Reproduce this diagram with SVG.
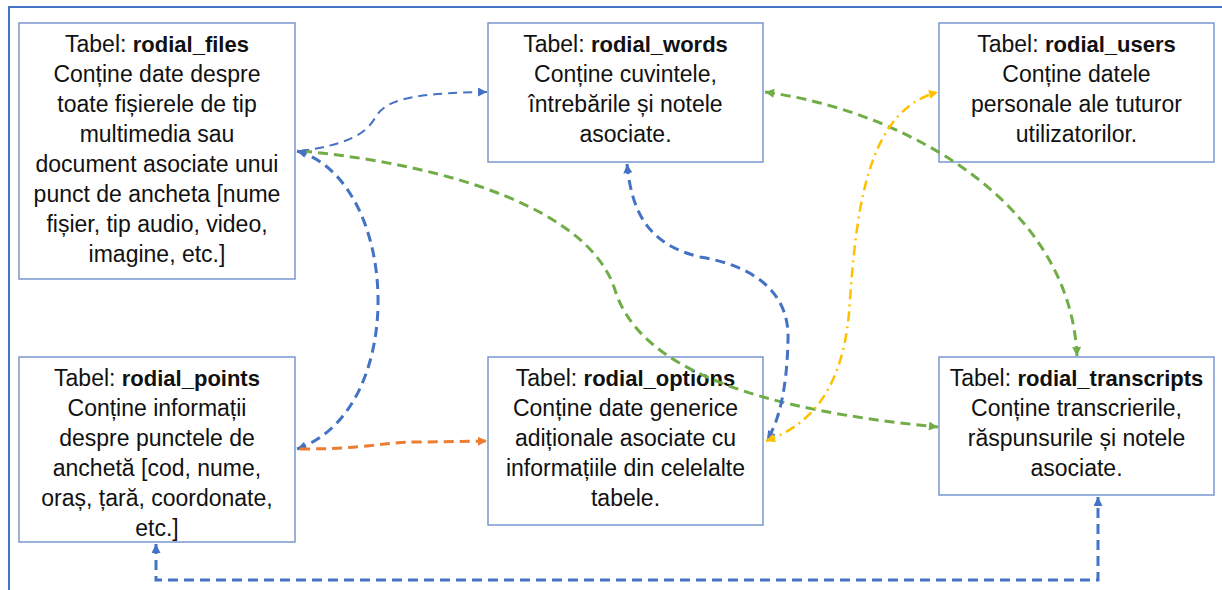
<svg xmlns="http://www.w3.org/2000/svg" width="1222" height="590" viewBox="0 0 1222 590">
<style>
.frame{fill:none;stroke:#4472C4;stroke-width:2}
.box{fill:#fff;stroke:#7090CC;stroke-width:1.4}
.t{font-family:"Liberation Sans",Arial,sans-serif;font-size:23px;fill:#111;text-anchor:middle}
.b{font-weight:bold;font-size:22px}
.c{fill:none;stroke-linecap:butt}
.blue{stroke:#4472C4;stroke-width:3;stroke-dasharray:10 6}
.blue2{stroke:#4472C4;stroke-width:2;stroke-dasharray:9 6}
.green{stroke:#70AD47;stroke-width:3;stroke-dasharray:10 6}
.orange{stroke:#ED7D31;stroke-width:3;stroke-dasharray:10 6}
.yellow{stroke:#FFC000;stroke-width:2.5;stroke-dasharray:10 5 2 5}
</style>
<defs>
<marker id="mb" viewBox="0 0 10 10" refX="10" refY="5" markerWidth="10" markerHeight="9" markerUnits="userSpaceOnUse" orient="auto-start-reverse"><path d="M0,0 L10,5 L0,10 z" fill="#4472C4"/></marker>
<marker id="mg" viewBox="0 0 10 10" refX="10" refY="5" markerWidth="10" markerHeight="9" markerUnits="userSpaceOnUse" orient="auto-start-reverse"><path d="M0,0 L10,5 L0,10 z" fill="#70AD47"/></marker>
<marker id="mo" viewBox="0 0 10 10" refX="10" refY="5" markerWidth="10" markerHeight="9" markerUnits="userSpaceOnUse" orient="auto-start-reverse"><path d="M0,0 L10,5 L0,10 z" fill="#ED7D31"/></marker>
<marker id="my" viewBox="0 0 10 10" refX="10" refY="5" markerWidth="10" markerHeight="9" markerUnits="userSpaceOnUse" orient="auto-start-reverse"><path d="M0,0 L10,5 L0,10 z" fill="#FFC000"/></marker>
</defs>
<rect class="frame" x="9" y="7" width="1240" height="600"/>

<g id="node-files">
<rect class="box" x="19" y="23" width="276" height="256"/>
<text class="t" x="157" y="52">Tabel: <tspan class="b">rodial_files</tspan></text>
<text class="t" x="157" y="82">Conține date despre</text>
<text class="t" x="157" y="112">toate fișierele de tip</text>
<text class="t" x="157" y="142">multimedia sau</text>
<text class="t" x="157" y="172">document asociate unui</text>
<text class="t" x="157" y="202">punct de ancheta [nume</text>
<text class="t" x="157" y="232">fișier, tip audio, video,</text>
<text class="t" x="157" y="262">imagine, etc.]</text>
</g>
<g id="node-words">
<rect class="box" x="488" y="23" width="275" height="139"/>
<text class="t" x="625.5" y="52">Tabel: <tspan class="b">rodial_words</tspan></text>
<text class="t" x="625.5" y="82">Conține cuvintele,</text>
<text class="t" x="625.5" y="112">întrebările și notele</text>
<text class="t" x="625.5" y="142">asociate.</text>
</g>
<g id="node-users">
<rect class="box" x="939" y="23" width="275" height="139"/>
<text class="t" x="1076.5" y="52">Tabel: <tspan class="b">rodial_users</tspan></text>
<text class="t" x="1076.5" y="82">Conține datele</text>
<text class="t" x="1076.5" y="112">personale ale tuturor</text>
<text class="t" x="1076.5" y="142">utilizatorilor.</text>
</g>
<g id="node-points">
<rect class="box" x="19" y="357" width="276" height="185"/>
<text class="t" x="157" y="386">Tabel: <tspan class="b">rodial_points</tspan></text>
<text class="t" x="157" y="416">Conține informații</text>
<text class="t" x="157" y="446">despre punctele de</text>
<text class="t" x="157" y="476">anchetă [cod, nume,</text>
<text class="t" x="157" y="506">oraș, țară, coordonate,</text>
<text class="t" x="157" y="536">etc.]</text>
</g>
<g id="node-options">
<rect class="box" x="488" y="357" width="275" height="168"/>
<text class="t" x="625.5" y="386">Tabel: <tspan class="b">rodial_options</tspan></text>
<text class="t" x="625.5" y="416">Conține date generice</text>
<text class="t" x="625.5" y="446">adiționale asociate cu</text>
<text class="t" x="625.5" y="476">informațiile din celelalte</text>
<text class="t" x="625.5" y="506">tabele.</text>
</g>
<g id="node-transcripts">
<rect class="box" x="939" y="357" width="275" height="138"/>
<text class="t" x="1076.5" y="386">Tabel: <tspan class="b">rodial_transcripts</tspan></text>
<text class="t" x="1076.5" y="416">Conține transcrierile,</text>
<text class="t" x="1076.5" y="446">răspunsurile și notele</text>
<text class="t" x="1076.5" y="476">asociate.</text>
</g>

<g id="connectors">
<path class="c blue2" d="M300,151 C345,145 365,135 375,118 C385,100 410,93 487,92" marker-end="url(#mb)"/>
<path class="c green" d="M302,151 C450,165 590,210 615,290 C640,370 760,410 938,427" marker-end="url(#mg)"/>
<path class="c green" d="M765,92 C900,110 1070,200 1077,356" marker-start="url(#mg)" marker-end="url(#mg)"/>
<path class="c blue" d="M297,151 C400,180 410,410 297,449" marker-start="url(#mb)" marker-end="url(#mb)"/>
<path class="c orange" d="M300,449 C370,449 380,442 420,442 L487,441" marker-end="url(#mo)"/>
<path class="c blue" d="M627,164 C632,215 650,245 700,257 C750,265 790,290 788,340 C787,385 780,420 767,440" marker-start="url(#mb)" marker-end="url(#mb)"/>
<path class="c yellow" d="M766,441 C810,425 845,390 850,300 C857,200 870,110 938,92" marker-start="url(#my)" marker-end="url(#my)"/>
<path class="c blue" d="M156,544 L156,580 L1098,580 L1098,497" marker-start="url(#mb)" marker-end="url(#mb)"/>
</g>
</svg>
